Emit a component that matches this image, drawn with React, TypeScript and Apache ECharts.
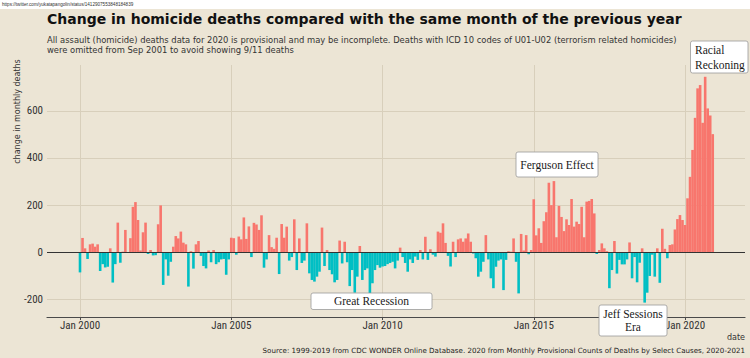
import React, { useEffect, useRef } from "react";
import * as echarts from "echarts";

// Change in monthly homicide deaths vs same month of previous year, Jan 2000 .. Dec 2020
const chg2000to2004 = [
  -85, 61, 17, -28, 34, 37, 24, 34, -79, -50, -64, -61,
  17, -128, -50, 126, -44, 3, 95, 2, 60, 193, 213, 137,
  8, 85, 126, -7, 10, -13, -12, 119, 199, -138, -30, -99,
  -40, 24, 69, 59, 88, 41, 34, -145, 5, -69, 34, 48,
  -15, -58, -68, 8, -42, 10, -50, -42, -30, -28, -95, -30,
];
const chg2005to2009 = [
  62, 60, -10, 67, 55, 148, 57, 110, -20, 125, 118, 95,
  157, -65, -30, 73, 22, 15, 62, -92, 120, 62, 109, -35,
  -20, 140, -75, 59, -45, -35, 123, -89, -117, -124, -103, -82,
  105, -58, 10, -75, -93, -127, -117, 50, -47, 45, -42, -143,
  -75, -171, -103, 27, -117, -75, -68, -174, -131, -75, -54, -65,
];
const chg2010to2014 = [
  -60, -58, -50, -45, -40, -68, -35, 20, -20, -45, -82, -30,
  -45, -18, -32, 10, -30, 66, -32, 13, -10, -18, 88, 83,
  123, 40, -15, -60, 45, -20, 55, 59, 45, 59, 80, 45,
  -5, -25, -103, -82, -40, 73, -30, -110, -152, -61, -35, -30,
  -160, -32, 5, 3, 59, -40, -174, 78, 8, 73, -8, 10,
];
const chg2015to2019 = [
  225, 72, 102, 40, 132, 170, 295, 200, 302, 64, 197, 150,
  90, 140, 116, 226, 109, 130, 120, 193, 64, 215, 218, 226,
  165, -7, 10, 38, 17, 5, -152, -75, 48, -90, -32, -51,
  -51, -30, 42, -110, -20, -127, -44, 17, -213, -171, -100, -10,
  -103, 17, -129, 100, 15, -25, 31, 34, 97, 141, 158, 137,
];
const chg2020 = [116, 229, 320, 434, 570, 695, 709, 549, 744, 610, 580, 501];

// x axis in months since Jan 2000
const xTickMonths = [0, 60, 120, 180, 240];
const xTickLabels = ["Jan 2000", "Jan 2005", "Jan 2010", "Jan 2015", "Jan 2020"];
const yTicks = [-200, 0, 200, 400, 600];

const TITLE = "Change in homicide deaths compared with the same month of the previous year";
const SUB1 =
  "All assault (homicide) deaths data for 2020 is provisional and may be incomplete. Deaths with ICD 10 codes of U01-U02 (terrorism related homicides)";
const SUB2 = "were omitted from Sep 2001 to avoid showing 9/11 deaths";
const CAPTION =
  "Source: 1999-2019 from CDC WONDER Online Database. 2020 from Monthly Provisional Counts of Deaths by Select Causes, 2020-2021";
const URL = "https://twitter.com/yukatapangolin/status/1412907553848184839";

const RED = "#F8766D";
const CYAN = "#00BFC4";
const BG = "#ECE5D5";
const GRID = "#D8CFBB";
const NARROW = "'Liberation Sans Narrow', 'Roboto Condensed', 'Liberation Sans', sans-serif";
const DEJAVU = "'DejaVu Sans', sans-serif";
const SERIF = "'Liberation Serif', 'DejaVu Serif', serif";

function labelBox(x: number, y: number, w: number, h: number, text: string, tx: number, ty: number, align: string, lineHeight: number) {
  return {
    type: "group",
    children: [
      {
        type: "rect",
        shape: { x, y, width: w, height: h, r: 2 },
        style: { fill: "#ffffff", stroke: "#9a9a9a", lineWidth: 0.8 },
        z: 10,
      },
      {
        type: "text",
        x: tx,
        y: ty,
        style: {
          text,
          fontFamily: SERIF,
          fontSize: 11.5,
          fill: "#1a1a1a",
          align,
          verticalAlign: "middle",
          lineHeight,
        },
        z: 11,
      },
    ],
  };
}

export default function App() {
  const ref = useRef<HTMLDivElement>(null);

  useEffect(() => {
    if (!ref.current) return;
    const chart = echarts.init(ref.current, undefined, { renderer: "svg" });
    const values = [...chg2000to2004, ...chg2005to2009, ...chg2010to2014, ...chg2015to2019, ...chg2020];
    const data = values.map((v, i) => [i, v]);

    chart.setOption({
      animation: false,
      backgroundColor: BG,
      grid: { left: 47, right: 5, top: 65, bottom: 41, containLabel: false, outerBoundsMode: "none" },
      xAxis: {
        type: "value",
        min: -13.09,
        max: 263.8,
        axisLine: { show: true, onZero: false, lineStyle: { color: "#4a4a4a", width: 1.2 } },
        axisTick: { show: true, customValues: xTickMonths, length: 3, lineStyle: { color: "#4a4a4a", width: 1 } },
        axisLabel: {
          customValues: xTickMonths,
          formatter: (v: number) => {
            const k = xTickMonths.indexOf(Math.round(v));
            return k >= 0 ? xTickLabels[k] : "";
          },
          margin: 3,
          fontSize: 11,
          color: "#333333",
          fontFamily: NARROW,
        },
        splitLine: { show: true, lineStyle: { color: GRID, width: 1 } },
      },
      yAxis: {
        type: "value",
        min: -274,
        max: 794,
        axisLine: { show: false },
        axisTick: { show: false, customValues: yTicks },
        axisLabel: {
          customValues: yTicks,
          margin: 4,
          fontSize: 11,
          color: "#333333",
          fontFamily: NARROW,
        },
        splitLine: { show: true, lineStyle: { color: GRID, width: 1 } },
      },
      series: [
        {
          type: "bar",
          data,
          barWidth: 2.6,
          itemStyle: {
            color: (p: any) => (p.value[1] >= 0 ? RED : CYAN),
          },
          markLine: {
            silent: true,
            symbol: "none",
            label: { show: false },
            lineStyle: { color: "#333333", width: 1.2, type: "solid" },
            data: [{ yAxis: 0 }],
          },
        },
      ],
      graphic: [
        { type: "rect", shape: { x: 0, y: 0, width: 750, height: 9 }, style: { fill: "#ffffff" } },
        {
          type: "text",
          x: 2,
          y: 4.5,
          style: { text: URL, fontSize: 4.6, fontFamily: "'Liberation Sans', sans-serif", fill: "#333", verticalAlign: "middle" },
        },
        {
          type: "text",
          x: 47,
          y: 19,
          style: { text: TITLE, fontSize: 14, fontWeight: "bold", fontFamily: DEJAVU, fill: "#111111", verticalAlign: "middle" },
        },
        {
          type: "text",
          x: 47,
          y: 40,
          style: { text: SUB1, fontSize: 8.4, fontFamily: DEJAVU, fill: "#333333", verticalAlign: "middle" },
        },
        {
          type: "text",
          x: 47,
          y: 49.5,
          style: { text: SUB2, fontSize: 8.4, fontFamily: DEJAVU, fill: "#333333", verticalAlign: "middle" },
        },
        {
          type: "text",
          x: 17,
          y: 111.5,
          rotation: Math.PI / 2,
          style: {
            text: "change in monthly deaths",
            fontSize: 8,
            fontFamily: DEJAVU,
            fill: "#333333",
            align: "center",
            verticalAlign: "middle",
          },
        },
        {
          type: "text",
          x: 745,
          y: 337,
          style: { text: "date", fontSize: 8, fontFamily: DEJAVU, fill: "#333333", align: "right", verticalAlign: "middle" },
        },
        {
          type: "text",
          x: 745,
          y: 350,
          style: { text: CAPTION, fontSize: 7.1, fontFamily: DEJAVU, fill: "#222222", align: "right", verticalAlign: "middle" },
        },
        labelBox(311, 293, 121, 16.5, "Great Recession", 371.5, 301.3, "center", 14),
        labelBox(516, 152, 82, 25, "Ferguson Effect", 557, 164.5, "center", 14),
        labelBox(599, 305, 68, 31, "Jeff Sessions\nEra", 633, 320.5, "center", 13.7),
        labelBox(690.5, 41, 57.5, 32, "Racial\nReckoning", 695, 57, "left", 15),
      ],
    });

    return () => chart.dispose();
  }, []);

  return <div ref={ref} style={{ position: "fixed", left: 0, top: 0, width: 750, height: 358 }} />;
}
